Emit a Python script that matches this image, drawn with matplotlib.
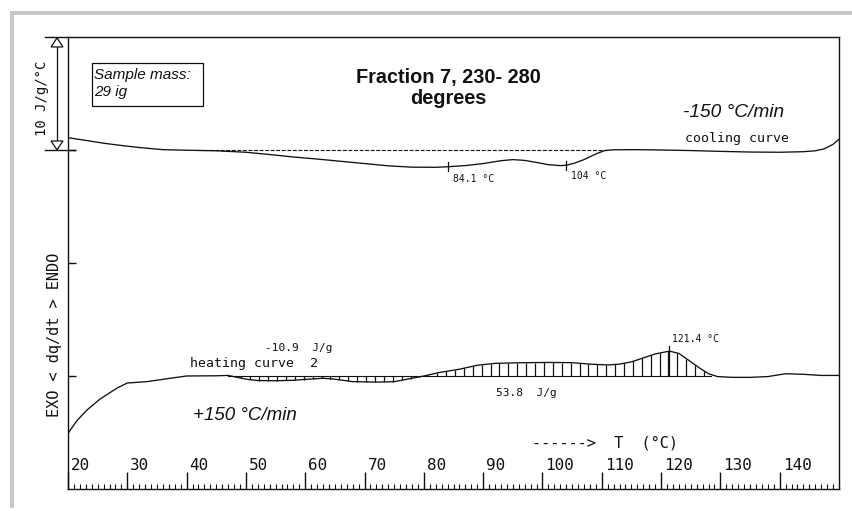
import matplotlib
matplotlib.use("Agg")
import matplotlib.pyplot as plt
import numpy as np
from matplotlib.patches import Rectangle, Polygon
from matplotlib.transforms import blended_transform_factory
from matplotlib.ticker import FixedLocator, MultipleLocator

# ---------------- data ----------------
cool_T = [20, 23, 26, 29, 32, 36, 40, 45, 50, 54, 58, 62, 66, 70, 74, 78, 82,
          84.1, 87, 90, 93, 95, 97, 99, 101, 103, 104, 105.5, 107, 109, 110.5,
          112, 116, 120, 125, 130, 135, 140, 144, 146, 147.5, 149, 150]
cool_y = [31.09, 30.85, 30.6, 30.4, 30.22, 30.03, 29.98, 29.93, 29.8, 29.6,
          29.38, 29.2, 29.0, 28.8, 28.6, 28.48, 28.47, 28.52, 28.62, 28.8,
          29.05, 29.15, 29.08, 28.9, 28.7, 28.62, 28.65, 28.85, 29.15, 29.65,
          29.95, 30.02, 30.03, 30.0, 29.95, 29.88, 29.82, 29.8, 29.85, 29.93,
          30.1, 30.5, 30.95]

heat_T = [20, 21.5, 23.2, 25.4, 28.3, 30, 33.3, 37, 40, 45, 47, 50, 52, 55,
          58, 60, 63, 65, 68, 72, 75, 78, 80, 82.5, 86, 89, 92, 96, 101, 105,
          108, 111, 113, 115, 117, 119, 121.4, 123, 124.5, 126.5, 128, 129.5,
          132, 135, 138, 141, 144, 147, 150]
heat_y = [4.92, 6.05, 6.99, 7.96, 8.94, 9.38, 9.5, 9.78, 10.0, 10.02, 10.05,
          9.72, 9.6, 9.58, 9.62, 9.7, 9.8, 9.72, 9.5, 9.46, 9.5, 9.8, 10.0,
          10.3, 10.6, 10.95, 11.12, 11.17, 11.2, 11.18, 11.05, 10.98, 11.05,
          11.25, 11.6, 11.95, 12.2, 12.0, 11.45, 10.7, 10.2, 9.95, 9.88, 9.88,
          9.95, 10.2, 10.15, 10.05, 10.05]

cool_baseline = 30.0
heat_baseline = 10.0
cool_dash_range = [42, 111]
heat_integral_range = [47, 128.5]

cool_peaks = [84.1, 104]
cool_peak_labels = ["84.1 °C", "104 °C"]
heat_peak = 121.4
heat_peak_label = "121.4 °C"
heat_peak_value = 12.2

x_ticks = [20, 30, 40, 50, 60, 70, 80, 90, 100, 110, 120, 130, 140]
x_tick_labels = ["20", "30", "40", "50", "60", "70", "80", "90", "100",
                 "110", "120", "130", "140"]
y_ticks = [10, 20, 30]

# ---------------- figure ----------------
W, H = 853, 511
fig = plt.figure(figsize=(W / 100, H / 100), dpi=100)
fig.patch.set_facecolor("white")

# light gray L-shaped frame
fig.add_artist(Rectangle((10 / W, (H - 15) / H), 1 - 10 / W, 4 / H,
                         transform=fig.transFigure, color="#c8c8c8", lw=0, zorder=0))
fig.add_artist(Rectangle((10 / W, (H - 508) / H), 4 / W, (508 - 11) / H,
                         transform=fig.transFigure, color="#c8c8c8", lw=0, zorder=0))

L, R, T_, B = 68, 839, 37, 489
ax = fig.add_axes([L / W, (H - B) / H, (R - L) / W, (B - T_) / H])
ax.set_xlim(20, 150)
ax.set_ylim(0, 40)
for s in ax.spines.values():
    s.set_linewidth(1.0)
    s.set_color("#111111")

ink = "#111111"
mono = "DejaVu Sans Mono"
sans = "Liberation Sans"

# ticks
ax.xaxis.set_major_locator(FixedLocator(x_ticks))
ax.xaxis.set_minor_locator(MultipleLocator(1))
ax.tick_params(axis="x", which="major", direction="in", length=12.5, width=1.0,
               color=ink, labelbottom=False)
ax.tick_params(axis="x", which="minor", direction="in", length=3.5, width=0.8,
               color=ink)
ax.set_yticks(y_ticks)
ax.tick_params(axis="y", which="major", direction="in", length=5.5, width=1.0,
               color=ink, labelleft=False)

for t, lab in zip(x_ticks, x_tick_labels):
    ax.text(t + 0.5, 2.12, lab, fontsize=11.5, family=mono, color=ink,
            ha="left", va="center")

# curves
ax.plot(cool_T, cool_y, color=ink, lw=0.95)
ax.plot(heat_T, heat_y, color=ink, lw=0.95)
ax.plot(cool_dash_range, [cool_baseline] * 2, color=ink, lw=0.8,
        ls=(0, (3.5, 1.5)))

# hatched integration area: vertical lines between baseline and curve
hatch_T = np.arange(heat_integral_range[0] + 0.75, heat_integral_range[1], 1.5)
hatch_top = np.interp(hatch_T, heat_T, heat_y)
ax.vlines(hatch_T, heat_baseline, hatch_top, color=ink, lw=0.9)
ax.plot(heat_integral_range, [heat_baseline] * 2, color=ink, lw=0.8)

# peak marks
cT = np.array(cool_T)
cy = np.array(cool_y)
for p in cool_peaks:
    yv = cy[np.argmin(np.abs(cT - p))]
    ax.plot([p, p], [yv - 0.4, yv + 0.4], color=ink, lw=0.9)
ax.plot([heat_peak, heat_peak], [heat_baseline, heat_peak_value + 0.45],
        color=ink, lw=0.9)

# peak labels
ax.text(84.9, 27.39, cool_peak_labels[0], fontsize=7, family=mono, color=ink,
        ha="left", va="center")
ax.text(104.8, 27.7, cool_peak_labels[1], fontsize=7, family=mono, color=ink,
        ha="left", va="center")
ax.text(121.8, 13.27, heat_peak_label, fontsize=7, family=mono, color=ink,
        ha="left", va="center")

# curve labels
ax.text(124.0, 31.0, "cooling curve", fontsize=9.5, family=mono, color=ink,
        ha="left", va="center")
ax.text(40.6, 11.1, "heating curve  2", fontsize=9.5, family=mono, color=ink,
        ha="left", va="center")
ax.text(53.2, 12.48, "-10.9  J/g", fontsize=8, family=mono, color=ink,
        ha="left", va="center")
ax.text(92.2, 8.5, "53.8  J/g", fontsize=8, family=mono, color=ink,
        ha="left", va="center")
ax.text(98.2, 4.07, "------>  T  (°C)", fontsize=11, family=mono, color=ink,
        ha="left", va="center")

# rates
ax.text(123.7, 32.9, "-150 °C/min", fontsize=13.8, family=sans,
        style="italic", color=ink, ha="left", va="baseline")
ax.text(41.08, 6.1, "+150 °C/min", fontsize=13.5, family=sans,
        style="italic", color=ink, ha="left", va="baseline")

# title
ax.text(84.07, 35.93, "Fraction 7, 230- 280", fontsize=14.3, family=sans,
        weight="bold", color=ink, ha="center", va="baseline")
ax.text(84.07, 34.07, "degrees", fontsize=14.3, family=sans,
        weight="bold", color=ink, ha="center", va="baseline")

# sample mass box
ax.add_patch(Rectangle((24.1, 33.92), 42.81 - 24.1, 37.67 - 33.92,
                       fill=False, ec=ink, lw=0.9))
ax.text(24.45, 36.28, "Sample mass:", fontsize=11, family=sans,
        style="italic", color=ink, ha="left", va="baseline")
ax.text(24.45, 34.78, "29 ig", fontsize=11, family=sans,
        style="italic", color=ink, ha="left", va="baseline")

# scale bar and axis title outside the axes
bt = blended_transform_factory(ax.transAxes, ax.transData)
xa = lambda px: (px - L) / (R - L)
ax.plot([xa(45), 0], [40, 40], transform=bt, clip_on=False, color=ink, lw=1.0)
ax.plot([xa(45), xa(75)], [30, 30], transform=bt, clip_on=False, color=ink, lw=1.0)
ax.plot([xa(57), xa(57)], [39.9, 30.05], transform=bt, clip_on=False,
        color=ink, lw=0.9)
ax.add_patch(Polygon([[xa(51), 39.12], [xa(63), 39.12], [xa(57), 39.92]],
                     closed=True, transform=bt, fc="white", ec=ink, lw=0.9,
                     clip_on=False, zorder=5))
ax.add_patch(Polygon([[xa(51), 30.8], [xa(63), 30.8], [xa(57), 30.02]],
                     closed=True, transform=bt, fc="white", ec=ink, lw=0.9,
                     clip_on=False, zorder=5))
ax.text(xa(42), 34.56, "10 J/g/°C", fontsize=10, family=mono, color=ink,
        rotation=90, ha="center", va="center", transform=bt)
ax.text(xa(54.5), 13.6, "EXO < dq/dt > ENDO", fontsize=11, family=mono,
        color=ink, rotation=90, ha="center", va="center", transform=bt)

fig.savefig("out.png", dpi=100)
